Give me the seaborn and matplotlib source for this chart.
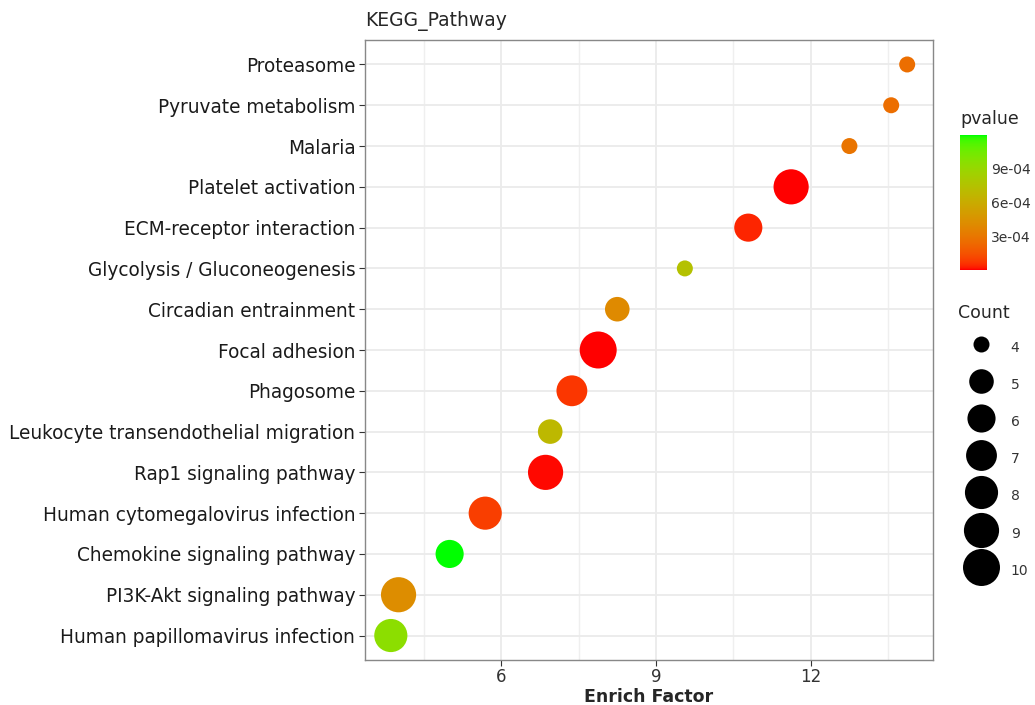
import matplotlib.pyplot as plt
import matplotlib as mpl
from matplotlib.lines import Line2D
import numpy as np
import pandas as pd
import seaborn as sns

pathways = ['Proteasome', 'Pyruvate metabolism', 'Malaria', 'Platelet activation',
            'ECM-receptor interaction', 'Glycolysis / Gluconeogenesis',
            'Circadian entrainment', 'Focal adhesion', 'Phagosome',
            'Leukocyte transendothelial migration', 'Rap1 signaling pathway',
            'Human cytomegalovirus infection', 'Chemokine signaling pathway',
            'PI3K-Akt signaling pathway', 'Human papillomavirus infection']
enrich_factor = [13.87, 13.56, 12.75, 11.62, 10.79, 9.56, 8.25, 7.88, 7.37,
                 6.95, 6.86, 5.69, 5.00, 4.01, 3.86]
counts = [4, 4, 4, 9, 6, 4, 5, 10, 7, 5, 9, 8, 6, 9, 8]
pvalues = [2.6e-4, 2.6e-4, 2.9e-4, 5e-6, 4e-5, 7.4e-4, 4.0e-4, 4e-6, 7e-5,
           6.8e-4, 1e-5, 9e-5, 1.19e-3, 4.2e-4, 9.4e-4]
count_levels = [4, 5, 6, 7, 8, 9, 10]
cbar_ticks = [3e-4, 6e-4, 9e-4]

df = pd.DataFrame({'Pathway': pathways, 'EnrichFactor': enrich_factor,
                   'Count': counts, 'pvalue': pvalues})


# red -> green gradient interpolated in Lab space (like ggplot2)
M = np.array([[0.4124564, 0.3575761, 0.1804375],
              [0.2126729, 0.7151522, 0.0721750],
              [0.0193339, 0.1191920, 0.9503041]])
WHITE = M @ np.ones(3)


def rgb2lab(rgb):
    rgb = np.asarray(rgb, float)
    lin = np.where(rgb <= 0.04045, rgb / 12.92, ((rgb + 0.055) / 1.055) ** 2.4)
    xyz = lin @ M.T / WHITE
    f = np.where(xyz > (6 / 29) ** 3, np.cbrt(xyz), xyz / (3 * (6 / 29) ** 2) + 4 / 29)
    return np.stack([116 * f[..., 1] - 16, 500 * (f[..., 0] - f[..., 1]),
                     200 * (f[..., 1] - f[..., 2])], -1)


def lab2rgb(lab):
    fy = (lab[..., 0] + 16) / 116
    fx = fy + lab[..., 1] / 500
    fz = fy - lab[..., 2] / 200
    f = np.stack([fx, fy, fz], -1)
    xyz = np.where(f > 6 / 29, f ** 3, 3 * (6 / 29) ** 2 * (f - 4 / 29)) * WHITE
    lin = np.clip(xyz @ np.linalg.inv(M).T, 0, 1)
    return np.where(lin <= 0.0031308, 12.92 * lin, 1.055 * lin ** (1 / 2.4) - 0.055)


t = np.linspace(0, 1, 256)[:, None]
lab = (1 - t) * rgb2lab([1, 0, 0]) + t * rgb2lab([0, 1, 0])
cmap = mpl.colors.ListedColormap(np.clip(lab2rgb(lab), 0, 1))
norm = mpl.colors.Normalize(min(pvalues), max(pvalues))


# ggplot-style area scale: diameter in px
def diam_px(c):
    return 16 + 21 * np.sqrt((c - 4) / 6)


size_map = {c: (diam_px(c) * 0.72) ** 2 for c in count_levels}

sns.set_style('white')
plt.rcParams['font.family'] = ['DejaVu Sans']

fig = plt.figure(figsize=(10.35, 7.05), dpi=100)
ax = fig.add_axes([365 / 1035, 1 - 660 / 705, 568 / 1035, 620 / 705])

sns.scatterplot(data=df, x='EnrichFactor', y='Pathway', hue='pvalue', size='Count',
                palette=cmap, hue_norm=norm, sizes=size_map, linewidth=0,
                legend=False, ax=ax, zorder=3)

lo, hi = min(enrich_factor), max(enrich_factor)
pad = 0.05 * (hi - lo)
ax.set_xlim(lo - pad, hi + pad)
ax.set_ylim(len(pathways) - 1 + 0.6, -0.6)
ax.set_xticks([6, 9, 12])
ax.set_xticks([4.5, 7.5, 10.5, 13.5], minor=True)
ax.grid(True, which='major', color='#EBEBEB', linewidth=1.3, zorder=0)
ax.grid(True, which='minor', axis='x', color='#EFEFEF', linewidth=1.0, zorder=0)
ax.set_axisbelow(True)
for s in ax.spines.values():
    s.set_color('#888888')
    s.set_linewidth(1.0)
ax.tick_params(axis='both', which='major', length=4, color='#333333',
               direction='out', bottom=True, left=True)
ax.tick_params(axis='y', labelsize=13.35, labelcolor='#1a1a1a', pad=3)
ax.tick_params(axis='x', labelsize=12, labelcolor='#333333', pad=2)
ax.tick_params(which='minor', length=0)
ax.set_ylabel('')
ax.set_xlabel('Enrich Factor', fontsize=12.5, fontweight='bold', labelpad=1)
ax.set_title('KEGG_Pathway', loc='left', fontsize=13.5, pad=10)

# colour bar
cax = fig.add_axes([960 / 1035, 1 - 270 / 705, 27 / 1035, 135 / 705])
cb = fig.colorbar(mpl.cm.ScalarMappable(norm=norm, cmap=cmap), cax=cax,
                  ticks=cbar_ticks, format='%.0e')
cb.outline.set_visible(False)
cax.tick_params(direction='in', length=4, color='white', labelsize=10,
                labelcolor='#333333', pad=3)
cax.set_title('pvalue', loc='left', fontsize=12.5, pad=8)

# size legend
handles = [Line2D([], [], linestyle='', marker='o', color='black',
                  markersize=diam_px(c) * 0.72, markeredgewidth=0)
           for c in count_levels]
leg = fig.legend(handles, [str(c) for c in count_levels], title='Count',
                 loc='upper left', bbox_to_anchor=(958 / 1035, 1 - 304 / 705),
                 frameon=False, fontsize=10, title_fontsize=12.5,
                 handlelength=3.3, handleheight=2.2, labelspacing=1.0,
                 handletextpad=0.5, borderpad=0, borderaxespad=0,
                 alignment='left')
for txt in leg.get_texts():
    txt.set_color('#333333')

fig.savefig('out.png', dpi=100)
